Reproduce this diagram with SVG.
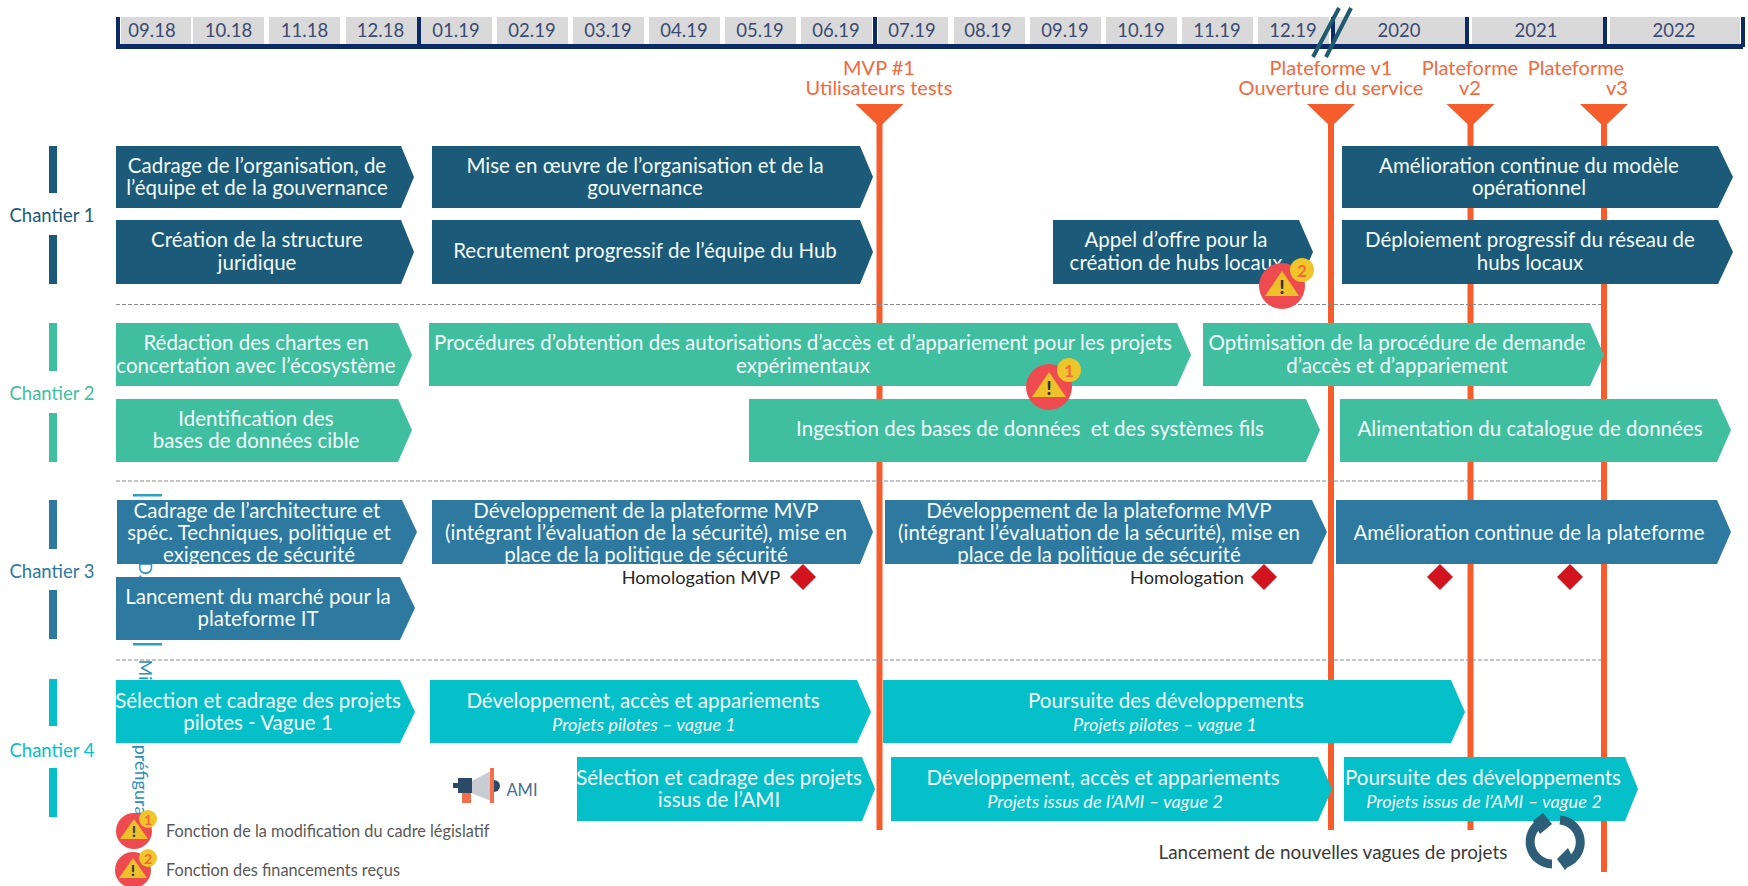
<svg xmlns="http://www.w3.org/2000/svg" width="1748" height="886" viewBox="0 0 1748 886">
<style>
text{font-family:"Lato","Carlito","Open Sans",sans-serif;text-anchor:middle;dominant-baseline:central}
.w{fill:#f4fbfb;font-size:20.5px}
.i{fill:#f4fbfb;font-size:18.2px;font-style:italic}
.cell{fill:#d9d9d9}
.m{fill:#3c4a72;font-size:18.5px}
.nav{fill:#0b2a66}
.o{fill:#f4683c;font-size:20px}
.ch{font-size:18.5px}
.b1{fill:#1b5a78}.b2{fill:#3fbf9f}.b3{fill:#2e79a0}.b4{fill:#05bfc9}
.ms{stroke:#f55d2d;stroke-width:6;fill:none}
.tri{fill:#f55d2d}
.dash{stroke:#8c8c8c;stroke-width:1.2;stroke-dasharray:4 2;fill:none}
.d{fill:#d2141e}
.k{fill:#262626;font-size:18.2px}
.l{fill:#595959;font-size:16.3px}
.wc{fill:#ee4b50}.wt{fill:#eec12a}.wb{fill:#f0c52a}
.wn{fill:#f4683c;font-size:17px;font-weight:700}
.we{fill:#333;font-size:19px;font-weight:900}
</style>
<defs>
<g id="warn">
<circle r="23" class="wc"/>
<polygon points="0,-15 17,10 -17,10" class="wt"/>
<text y="0" class="we">!</text>
</g>
<g id="warnS">
<circle r="18" class="wc"/>
<polygon points="0,-12 14,8 -14,8" class="wt"/>
<text y="0" class="we" style="font-size:15px">!</text>
</g>
</defs>

<g id="vertical-note" fill="#2e8fb5" font-size="18">
<rect x="133" y="494" width="29" height="2.5" fill="#2e9fc0"/>
<rect x="133" y="643" width="29" height="2.5" fill="#2e9fc0"/>
<text transform="translate(146,570) rotate(90)" fill="#2e8fb5">D.</text>
<text transform="translate(146,670) rotate(90)" fill="#2e8fb5">Mi</text>
<text transform="translate(142,780) rotate(90)" fill="#2e8fb5">préfigura</text>
</g>

<g id="timeline">
<rect class="cell" x="121" y="17" width="70" height="27"/><text class="m" x="152" y="29.500">09.18</text>
<rect class="cell" x="193" y="17" width="71" height="27"/><text class="m" x="228.500" y="29.500">10.18</text>
<rect class="cell" x="269" y="17" width="71" height="27"/><text class="m" x="304.500" y="29.500">11.18</text>
<rect class="cell" x="346" y="17" width="71" height="27"/><text class="m" x="380.500" y="29.500">12.18</text>
<rect class="cell" x="421" y="17" width="71" height="27"/><text class="m" x="456" y="29.500">01.19</text>
<rect class="cell" x="497" y="17" width="71" height="27"/><text class="m" x="532" y="29.500">02.19</text>
<rect class="cell" x="573" y="17" width="71" height="27"/><text class="m" x="608" y="29.500">03.19</text>
<rect class="cell" x="649" y="17" width="71" height="27"/><text class="m" x="684" y="29.500">04.19</text>
<rect class="cell" x="725" y="17" width="71" height="27"/><text class="m" x="760" y="29.500">05.19</text>
<rect class="cell" x="801" y="17" width="71" height="27"/><text class="m" x="836" y="29.500">06.19</text>
<rect class="cell" x="878" y="17" width="70" height="27"/><text class="m" x="912" y="29.500">07.19</text>
<rect class="cell" x="954" y="17" width="71" height="27"/><text class="m" x="988" y="29.500">08.19</text>
<rect class="cell" x="1030" y="17" width="71" height="27"/><text class="m" x="1065" y="29.500">09.19</text>
<rect class="cell" x="1106" y="17" width="71" height="27"/><text class="m" x="1141" y="29.500">10.19</text>
<rect class="cell" x="1182" y="17" width="71" height="27"/><text class="m" x="1217" y="29.500">11.19</text>
<rect class="cell" x="1258" y="17" width="71" height="27"/><text class="m" x="1293" y="29.500">12.19</text>
<rect class="cell" x="1335" y="17" width="131" height="27"/><text class="m" x="1399" y="29.500">2020</text>
<rect class="cell" x="1472" y="17" width="133" height="27"/><text class="m" x="1536" y="29.500">2021</text>
<rect class="cell" x="1610" y="17" width="130" height="27"/><text class="m" x="1674" y="29.500">2022</text>
<rect class="nav" x="116" y="44" width="1627" height="5"/>
<rect class="nav" x="116" y="17" width="4" height="30"/>
<rect class="nav" x="417" y="17" width="4" height="30"/>
<rect class="nav" x="873" y="17" width="4" height="30"/>
<rect class="nav" x="1331" y="17" width="4" height="30"/>
<rect class="nav" x="1465" y="17" width="4" height="30"/>
<rect class="nav" x="1603" y="17" width="4" height="30"/>
<rect class="nav" x="1741" y="17" width="4" height="30"/>
<path d="M1313 57L1339 8M1326 57L1351 8" stroke="#1f5a6e" stroke-width="4" fill="none"/>
</g>

<g id="connectors">
<path class="ms" d="M879.500 120V830"/>
<path class="ms" d="M1331 120V830"/>
<path class="ms" d="M1470.500 120V830"/>
<path class="ms" d="M1604 120V872"/>
<path class="dash" d="M116 304.500H1601"/>
<path class="dash" d="M116 481H1601"/>
<path class="dash" d="M116 660H1601"/>
</g>

<g id="milestone-mvp"><polygon class="tri" points="855.500,104 903.500,104 879.500,127"/><text class="o" x="879" y="67">MVP #1</text><text class="o" x="879" y="87">Utilisateurs tests</text></g>
<g id="milestone-v1"><polygon class="tri" points="1307,104 1355,104 1331,127"/><text class="o" x="1331" y="67">Plateforme v1</text><text class="o" x="1331" y="87">Ouverture du service</text></g>
<g id="milestone-v2"><polygon class="tri" points="1446.500,104 1494.500,104 1470.500,127"/><text class="o" x="1470" y="67">Plateforme</text><text class="o" x="1470" y="87">v2</text></g>
<g id="milestone-v3"><polygon class="tri" points="1580,104 1628,104 1604,127"/><text class="o" x="1576" y="67">Plateforme</text><text class="o" x="1617" y="87">v3</text></g>

<g id="chantier-1"><rect class="b1" x="49" y="146" width="8" height="47"/><rect class="b1" x="49" y="235" width="8" height="49"/><text class="ch" x="52" y="215" fill="#1b5a78">Chantier 1</text></g>
<g id="chantier-2"><rect class="b2" x="49" y="323" width="8" height="48"/><rect class="b2" x="49" y="413" width="8" height="49"/><text class="ch" x="52" y="393" fill="#3fbf9f">Chantier 2</text></g>
<g id="chantier-3"><rect class="b3" x="49" y="500" width="8" height="49"/><rect class="b3" x="49" y="590" width="8" height="49"/><text class="ch" x="52" y="571" fill="#2e79a0">Chantier 3</text></g>
<g id="chantier-4"><rect class="b4" x="49" y="679" width="8" height="47"/><rect class="b4" x="49" y="768" width="8" height="49"/><text class="ch" x="52" y="750" fill="#05bfc9">Chantier 4</text></g>

<g id="t11"><polygon class="b1" points="116,146 401,146 414,177 401,208 116,208"/><text class="w" x="257" y="164.500">Cadrage de l’organisation, de</text><text class="w" x="257" y="187">l’équipe et de la gouvernance</text></g>
<g id="t12"><polygon class="b1" points="432,146 860,146 873,177 860,208 432,208"/><text class="w" x="645" y="164.500">Mise en œuvre de l’organisation et de la</text><text class="w" x="645" y="187">gouvernance</text></g>
<g id="t13"><polygon class="b1" points="1342,146 1718,146 1733,177 1718,208 1342,208"/><text class="w" x="1529" y="164.500">Amélioration continue du modèle</text><text class="w" x="1529" y="187">opérationnel</text></g>
<g id="t14"><polygon class="b1" points="116,220 401,220 414,252 401,284 116,284"/><text class="w" x="257" y="239">Création de la structure</text><text class="w" x="257" y="261.500">juridique</text></g>
<g id="t15"><polygon class="b1" points="432,220 860,220 873,252 860,284 432,284"/><text class="w" x="645" y="249.500">Recrutement progressif de l’équipe du Hub</text></g>
<g id="t16"><polygon class="b1" points="1053,220 1299,220 1313,252 1299,284 1053,284"/><text class="w" x="1176" y="239">Appel d’offre pour la</text><text class="w" x="1176" y="261.500">création de hubs locaux</text></g>
<g id="t17"><polygon class="b1" points="1342,220 1718,220 1733,252 1718,284 1342,284"/><text class="w" x="1530" y="239">Déploiement progressif du réseau de</text><text class="w" x="1530" y="261.500">hubs locaux</text></g>

<g id="t21"><polygon class="b2" points="116,323 398,323 412,355 398,386 116,386"/><text class="w" x="256" y="342">Rédaction des chartes en</text><text class="w" x="256" y="364.500">concertation avec l’écosystème</text></g>
<g id="t22"><polygon class="b2" points="429,323 1177,323 1191,355 1177,386 429,386"/><text class="w" x="803" y="342">Procédures d’obtention des autorisations d’accès et d’appariement pour les projets</text><text class="w" x="803" y="364.500">expérimentaux</text></g>
<g id="t23"><polygon class="b2" points="1203,323 1590,323 1604,355 1590,386 1203,386"/><text class="w" x="1397" y="342">Optimisation de la procédure de demande</text><text class="w" x="1397" y="364.500">d’accès et d’appariement</text></g>
<g id="t24"><polygon class="b2" points="116,399 398,399 412,430 398,462 116,462"/><text class="w" x="256" y="417.500">Identification des</text><text class="w" x="256" y="440">bases de données cible</text></g>
<g id="t25"><polygon class="b2" points="749,399 1306,399 1320,430 1306,462 749,462"/><text class="w" x="1030" y="428" xml:space="preserve">Ingestion des bases de données  et des systèmes fils</text></g>
<g id="t26"><polygon class="b2" points="1340,399 1717,399 1731,430 1717,462 1340,462"/><text class="w" x="1530" y="428">Alimentation du catalogue de données</text></g>

<g id="t31"><polygon class="b3" points="117,500 402,500 417,532 402,564 117,564"/><text class="w" x="257" y="509.500">Cadrage de l’architecture et</text><text class="w" x="259" y="532">spéc. Techniques, politique et</text><text class="w" x="259" y="554">exigences de sécurité</text></g>
<g id="t32"><polygon class="b3" points="432,500 860,500 873,532 860,564 432,564"/><text class="w" x="646" y="509.500">Développement de la plateforme MVP</text><text class="w" x="646" y="532">(intégrant l’évaluation de la sécurité), mise en</text><text class="w" x="646" y="554">place de la politique de sécurité</text></g>
<g id="t33"><polygon class="b3" points="885,500 1312,500 1327,532 1312,564 885,564"/><text class="w" x="1099" y="509.500">Développement de la plateforme MVP</text><text class="w" x="1099" y="532">(intégrant l’évaluation de la sécurité), mise en</text><text class="w" x="1099" y="554">place de la politique de sécurité</text></g>
<g id="t34"><polygon class="b3" points="1336,500 1717,500 1731,532 1717,564 1336,564"/><text class="w" x="1529" y="531.500">Amélioration continue de la plateforme</text></g>
<g id="t35"><polygon class="b3" points="116,577 400,577 415,608 400,640 116,640"/><text class="w" x="258" y="595.500">Lancement du marché pour la</text><text class="w" x="258" y="618">plateforme IT</text></g>

<g id="hom-1"><text class="k" x="701" y="577">Homologation MVP</text><polygon class="d" points="803,564 816,577 803,590 790,577"/></g>
<g id="hom-2"><text class="k" x="1187" y="577">Homologation</text><polygon class="d" points="1264,564 1277,577 1264,590 1251,577"/></g>
<g id="hom-3"><polygon class="d" points="1440,564 1453,577 1440,590 1427,577"/></g>
<g id="hom-4"><polygon class="d" points="1570,564 1583,577 1570,590 1557,577"/></g>

<g id="t41"><polygon class="b4" points="116,680 400,680 415,712 400,743 116,743"/><text class="w" x="258" y="699.500">Sélection et cadrage des projets</text><text class="w" x="258" y="721.500">pilotes - Vague 1</text></g>
<g id="t42"><polygon class="b4" points="430,680 857,680 871,712 857,743 430,743"/><text class="w" x="643" y="699.500">Développement, accès et appariements</text><text class="i" x="644" y="723.500">Projets pilotes – vague 1</text></g>
<g id="t43"><polygon class="b4" points="883,680 1451,680 1465,712 1451,743 883,743"/><text class="w" x="1166" y="699.500">Poursuite des développements</text><text class="i" x="1165" y="723.500">Projets pilotes – vague 1</text></g>
<g id="t44"><polygon class="b4" points="577,757 862,757 875,789 862,821 577,821"/><text class="w" x="719" y="777">Sélection et cadrage des projets</text><text class="w" x="719" y="799">issus de l’AMI</text></g>
<g id="t45"><polygon class="b4" points="891,757 1318,757 1332,789 1318,821 891,821"/><text class="w" x="1103" y="777">Développement, accès et appariements</text><text class="i" x="1105" y="801">Projets issus de l’AMI – vague 2</text></g>
<g id="t46"><polygon class="b4" points="1344,757 1625,757 1638,789 1625,821 1344,821"/><text class="w" x="1483" y="777">Poursuite des développements</text><text class="i" x="1484" y="801">Projets issus de l’AMI – vague 2</text></g>

<g id="warning-2" transform="translate(1282,286)"><use href="#warn"/><circle cx="20" cy="-16" r="12" class="wb"/><text x="20" y="-16" class="wn">2</text></g>
<g id="warning-1" transform="translate(1049,387)"><use href="#warn"/><circle cx="20" cy="-17" r="12" class="wb"/><text x="20" y="-17" class="wn">1</text></g>

<g id="ami">
<polygon points="466,784 491,771 491,801 466,791" fill="#c9ccd2"/>
<rect x="458" y="778" width="14" height="15" fill="#2b4a68"/>
<rect x="453" y="783" width="6" height="5" fill="#2b4a68"/>
<rect x="462" y="793" width="9" height="10" fill="#f1704a"/>
<rect x="490" y="768" width="4" height="35" fill="#f1704a"/>
<path d="M494 780a6 6 0 0 1 0 12z" fill="#2b4a68"/>
<text x="522" y="790" fill="#4a6f8c" font-size="16.500">AMI</text>
</g>

<g id="legend-1"><use href="#warnS" x="134" y="831"/><circle cx="148" cy="819" r="9" class="wb"/><text x="148" y="819" class="wn" style="font-size:14px">1</text><text class="l" x="166" y="830" style="text-anchor:start">Fonction de la modification du cadre législatif</text></g>
<g id="legend-2"><use href="#warnS" x="133" y="870"/><circle cx="148" cy="858" r="9" class="wb"/><text x="148" y="858" class="wn" style="font-size:14px">2</text><text class="l" x="166" y="869" style="text-anchor:start">Fonction des financements reçus</text></g>

<g id="new-waves">
<text x="1333" y="851" fill="#3a3a3a" font-size="18.900">Lancement de nouvelles vagues de projets</text>
<path d="M1542 822A22.300 22.300 0 0 0 1552 864" stroke="#2f5f78" stroke-width="9" fill="none"/>
<polygon points="1543,813 1552,824 1540,834 1533,821" fill="#2f5f78"/>
<path d="M1560 820A22.300 22.300 0 0 1 1566 863" stroke="#2f5f78" stroke-width="9" fill="none"/>
<polygon points="1557,859 1568,848 1574,860 1565,870" fill="#2f5f78"/>
</g>
</svg>
